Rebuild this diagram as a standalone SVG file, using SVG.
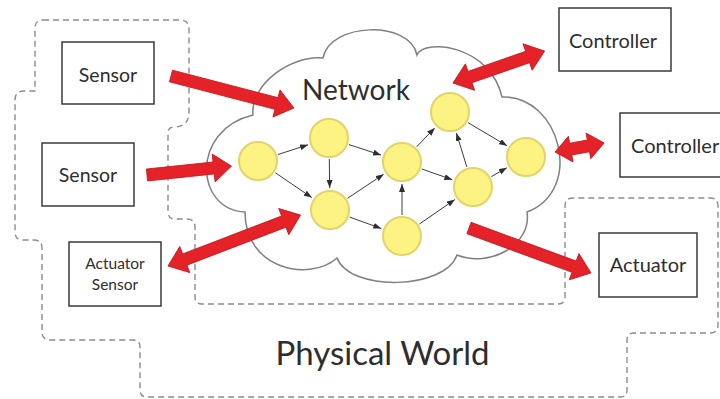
<svg xmlns="http://www.w3.org/2000/svg" width="720" height="399" viewBox="0 0 720 399">
<defs>
<style>
.box{fill:#fff;stroke:#3a3a3a;stroke-width:1.5}
.lbl{font-family:Lato,"Liberation Sans",sans-serif;fill:#2e2e2e;text-anchor:middle}
.dash{fill:none;stroke:#8c8c8c;stroke-width:1.4;stroke-dasharray:6 4}
.cloud{fill:#fff;stroke:#808080;stroke-width:1.5}
.node{fill:#fdf382;stroke:#e2d36a;stroke-width:2}
.edge{stroke:#3c3c3c;stroke-width:1;fill:none;marker-end:url(#ah)}
.red{fill:#e52228;stroke:#c4161c;stroke-width:0.8}
</style>
<marker id="ah" markerUnits="userSpaceOnUse" markerWidth="8" markerHeight="6" refX="8" refY="3" orient="auto">
<path d="M0,0 L8,3 L0,6 Z" fill="#2e2e2e"/>
</marker>
</defs>
<rect width="720" height="399" fill="#fff"/>
<g id="physical-world">
<path class="dash" d="M43,20 H180 Q189,20 189,29 V112 Q189,127 174,127 Q168,127 168,133 V212 Q168,219 175,219 H187 Q195,219 195,227 V297 Q195,304 202,304 H558 Q565,304 565,297 V206 Q565,198 573,198 H710 Q718,198 718,206 V325 Q718,333 710,333 H634 Q627,333 627,340 V390 Q627,397 620,397 H147 Q140,397 140,390 V347 Q140,340 133,340 H50 Q42,340 42,332 V248 Q42,240 34,240 H23 Q15,240 15,232 V100 Q15,91 24,91 H35 V28 Q35,20 43,20 Z"/>
<text class="lbl" x="382.5" y="365" font-size="33">Physical World</text>
</g>
<g id="network">
<path class="cloud" d="M253,115 C250,85 290,55 323,58 C330,22 410,20 417,55 C425,38 490,45 502,97 C560,95 585,190 527,212 C532,245 490,268 457,255 C445,290 350,292 337,258 C310,282 245,270 245,212 C195,210 190,130 253,115 Z"/>
<text class="lbl" x="356" y="100" font-size="28">Network</text>
</g>
<g id="sensor1"><rect class="box" x="62" y="42" width="92" height="62"/><text class="lbl" x="108" y="82" font-size="19.5">Sensor</text></g>
<g id="sensor2"><rect class="box" x="42" y="143" width="92" height="63"/><text class="lbl" x="88" y="182" font-size="19.5">Sensor</text></g>
<g id="actuator-sensor"><rect class="box" x="69" y="242" width="92" height="64"/><text class="lbl" x="115" y="269" font-size="15.5">Actuator</text><text class="lbl" x="115" y="290" font-size="15.5">Sensor</text></g>
<g id="controller1"><rect class="box" x="559" y="8" width="112" height="63"/><text class="lbl" x="613" y="48" font-size="20">Controller</text></g>
<g id="controller2"><rect class="box" x="620" y="113" width="110" height="64"/><text class="lbl" x="631" y="153" font-size="20" style="text-anchor:start">Controller</text></g>
<g id="actuator"><rect class="box" x="599" y="233" width="98" height="64"/><text class="lbl" x="648" y="272" font-size="20">Actuator</text></g>
<g id="connectors">
<line class="edge" x1="278" y1="154.5" x2="308.1" y2="144.8"/>
<line class="edge" x1="275.4" y1="172.8" x2="311.8" y2="197.6"/>
<line class="edge" x1="329.3" y1="159" x2="329.7" y2="188"/>
<line class="edge" x1="349" y1="144.6" x2="381.1" y2="155.1"/>
<line class="edge" x1="347.5" y1="198.3" x2="383.7" y2="174.2"/>
<line class="edge" x1="349.7" y1="217.1" x2="381.3" y2="228.5"/>
<line class="edge" x1="402" y1="215" x2="402" y2="184"/>
<line class="edge" x1="416.6" y1="146.8" x2="434.8" y2="127.9"/>
<line class="edge" x1="421.8" y1="169" x2="452.3" y2="179.7"/>
<line class="edge" x1="419.3" y1="224.1" x2="454.9" y2="199.5"/>
<line class="edge" x1="466.8" y1="166.9" x2="456.4" y2="133"/>
<line class="edge" x1="468.1" y1="122.7" x2="507.1" y2="145.8"/>
<line class="edge" x1="491.3" y1="176.6" x2="506.9" y2="167.8"/>
</g>
<g id="n1"><circle class="node" cx="258" cy="161" r="19"/></g>
<g id="n2"><circle class="node" cx="329" cy="138" r="19"/></g>
<g id="n3"><circle class="node" cx="330" cy="210" r="19"/></g>
<g id="n4"><circle class="node" cx="402" cy="162" r="19"/></g>
<g id="n5"><circle class="node" cx="402" cy="236" r="19"/></g>
<g id="n6"><circle class="node" cx="450" cy="112" r="19"/></g>
<g id="n7"><circle class="node" cx="473" cy="187" r="19"/></g>
<g id="n8"><circle class="node" cx="526" cy="157" r="19"/></g>
<g id="red-connectors">
<path class="red" transform="translate(171,76) rotate(14.6)" d="M0,-6 H109 V-14 L127,0 L109,14 V6 H0 Z"/>
<path class="red" transform="translate(147,175) rotate(-6)" d="M0,-6 H67 V-14 L85,0 L67,14 V6 H0 Z"/>
<path class="red" transform="translate(168,266) rotate(-21)" d="M0,0 L18,-14 V-6 H124 V-14 L142,0 L124,14 V6 H18 V14 Z"/>
<path class="red" transform="translate(453,83) rotate(-19.2)" d="M0,0 L18,-14 V-6 H79 V-14 L97,0 L79,14 V6 H18 V14 Z"/>
<path class="red" transform="translate(555,152) rotate(-10.4)" d="M0,0 L16,-13 V-6 H34 V-13 L50,0 L34,13 V6 H16 V13 Z"/>
<path class="red" transform="translate(469,228) rotate(20.2)" d="M0,-6 H112 V-14 L130,0 L112,14 V6 H0 Z"/>
</g>
</svg>
